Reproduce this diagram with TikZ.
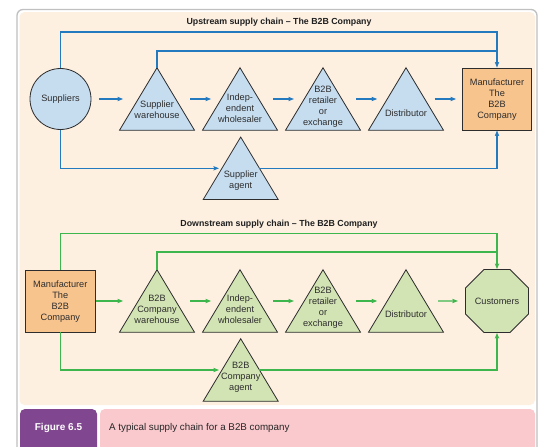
\documentclass[tikz,border=0pt]{standalone}
\usepackage{fontspec}
\setmainfont{Liberation Sans}
\usetikzlibrary{shapes.geometric,arrows.meta,calc}
\definecolor{bline}{RGB}{36,122,190}
\definecolor{bfill}{RGB}{198,221,240}
\definecolor{gline}{RGB}{62,182,78}
\definecolor{gfill}{RGB}{211,228,180}
\definecolor{ofill}{RGB}{248,196,142}
\definecolor{panel}{RGB}{253,240,225}
\definecolor{purp}{RGB}{128,70,143}
\definecolor{pinkc}{RGB}{249,201,205}
\definecolor{framec}{RGB}{192,192,192}
\definecolor{edge}{RGB}{45,45,45}
\definecolor{txt}{RGB}{45,45,45}
\newcommand{\shtxt}[2]{\raisebox{#1}[0pt][0pt]{\begin{tabular}{@{}c@{}}#2\end{tabular}}}
\begin{document}
\begin{tikzpicture}[x=1pt,y=-1pt,
  every node/.style={font=\fontsize{9.2}{11}\selectfont, text=txt},
  tri/.style={minimum width=77pt, minimum height=64.5pt, inner sep=0pt,
    path picture={\filldraw[fill=#1, draw=edge, line width=0.8pt]
      ([shift={(1pt,1pt)}]path picture bounding box.south west) --
      ([shift={(0pt,-1pt)}]path picture bounding box.north) --
      ([shift={(-1pt,1pt)}]path picture bounding box.south east) -- cycle;}},
  boxn/.style={rectangle, draw=edge, fill=ofill, line width=0.8pt, minimum width=69.5pt, minimum height=62pt, inner sep=0pt},
  circn/.style={circle, draw=edge, fill=bfill, line width=0.8pt, minimum size=61pt, inner sep=0pt},
  octn/.style={regular polygon, regular polygon sides=8, draw=edge, fill=gfill, line width=0.8pt, minimum size=66pt, inner sep=0pt},
  bln/.style={draw=bline, line width=1.25pt},
  gln/.style={draw=gline, line width=1.25pt},
  tipa/.style={-{Stealth[length=5.5pt,width=4.2pt,inset=0.8pt]}},
  ttl/.style={font=\bfseries\fontsize{8.8}{10}\selectfont, text=black!88}
]
\useasboundingbox (0,0) rectangle (542,447);
\clip (0,0) rectangle (542,447);
\fill[white] (0,0) rectangle (542,447);
\draw[framec, line width=1.3pt, rounded corners=6pt] (17,9.5) rectangle (537,470);
\fill[panel, rounded corners=5pt] (19.5,12) rectangle (535,405);
\fill[purp, rounded corners=5pt] (20,409) rectangle (97,470);
\fill[pinkc, rounded corners=5pt] (100,409) rectangle (535,470);

% ---------------- Upstream ----------------
\node[ttl] (ttlup) at (279,22) {Upstream supply chain – The B2B Company};
\node[circn] (sup) at (60.5,99) {Suppliers};
\node[tri=bfill] (wh) at (157,99) {\shtxt{-13.6pt}{Supplier\\warehouse}};
\node[tri=bfill] (wl) at (240,99) {\shtxt{-12.6pt}{Indep-\\endent\\wholesaler}};
\node[tri=bfill] (rt) at (323,99) {\shtxt{-10.4pt}{B2B\\retailer\\or\\exchange}};
\node[tri=bfill] (ds) at (406,99) {\shtxt{-17.4pt}{Distributor}};
\node[boxn] (man) at (497,99) {\shtxt{-3.4pt}{Manufacturer\\The\\B2B\\Company}};
\node[tri=bfill] (ag) at (240.7,168.3) {\shtxt{-14.4pt}{Supplier\\agent}};

\coordinate (u1) at (0,32);
\coordinate (u2) at (0,51);
\draw[bln, tipa, shorten <=7.4pt, shorten >=-4.8pt] (sup.east) -- (wh.west);
\draw[bln, tipa, shorten <=-5.5pt, shorten >=-9.8pt] (wh.east) -- (wl.west);
\draw[bln, tipa, shorten <=-5.7pt, shorten >=-9.7pt] (wl.east) -- (rt.west);
\draw[bln, tipa, shorten <=-5.8pt, shorten >=-9.9pt] (rt.east) -- (ds.west);
\draw[bln, tipa, shorten <=-10.1pt, shorten >=5.75pt] (ds.east) -- (man.west);
\draw[bln, tipa] (sup.north) -- (sup.north |- u1) -| (man.north);
\draw[bln, shorten <=-1.5pt] (wh.north) |- (man.north |- u2);
\draw[bln, tipa, shorten >=-17pt] (sup.south) |- (ag.west);
\draw[bln, tipa, shorten <=-20pt] (ag.east) -| (man.south);

% ---------------- Downstream ----------------
\node[ttl] (ttldn) at (279,224) {Downstream supply chain – The B2B Company};
\node[boxn] (man2) at (60.3,301) {\shtxt{-3.4pt}{Manufacturer\\The\\B2B\\Company}};
\node[tri=gfill] (wh2) at (157,301) {\shtxt{-11.9pt}{B2B\\Company\\warehouse}};
\node[tri=gfill] (wl2) at (240,301) {\shtxt{-11.2pt}{Indep-\\endent\\wholesaler}};
\node[tri=gfill] (rt2) at (323,301) {\shtxt{-8.9pt}{B2B\\retailer\\or\\exchange}};
\node[tri=gfill] (ds2) at (406,301) {\shtxt{-16.9pt}{Distributor}};
\node[octn] (cus) at (497,301) {Customers};
\node[tri=gfill] (ag2) at (240.7,370) {\shtxt{-9.9pt}{B2B\\Company\\agent}};

\coordinate (d1) at (0,233.3);
\coordinate (d2) at (0,252);
\draw[gln, tipa, shorten <=1pt, shorten >=-4.8pt] (man2.east) -- (wh2.west);
\draw[gln, tipa, shorten <=-5.5pt, shorten >=-9.8pt] (wh2.east) -- (wl2.west);
\draw[gln, tipa, shorten <=-5.7pt, shorten >=-9.7pt] (wl2.east) -- (rt2.west);
\draw[gln, tipa, shorten <=-5.8pt, shorten >=-9.9pt] (rt2.east) -- (ds2.west);
\draw[gln, tipa, shorten <=-6.5pt, shorten >=7.2pt] (ds2.east) -- (cus.west);
\draw[gln, tipa] (man2.north) -- (man2.north |- d1) -| (cus.north);
\draw[gln, shorten <=-1.5pt] (wh2.north) |- (cus.north |- d2);
\draw[gln, tipa, shorten >=-17pt] (man2.south) |- (ag2.west);
\draw[gln, tipa, shorten <=-20pt] (ag2.east) -| (cus.south);

% ---------------- Caption ----------------
\node[font=\bfseries\fontsize{10}{12}\selectfont, text=white] (fig) at (58.5,428) {Figure 6.5};
\node[anchor=west, inner sep=0pt, font=\fontsize{9.8}{12}\selectfont, text=black!85] (cap) at (109,428) {A typical supply chain for a B2B company};
\end{tikzpicture}
\end{document}
